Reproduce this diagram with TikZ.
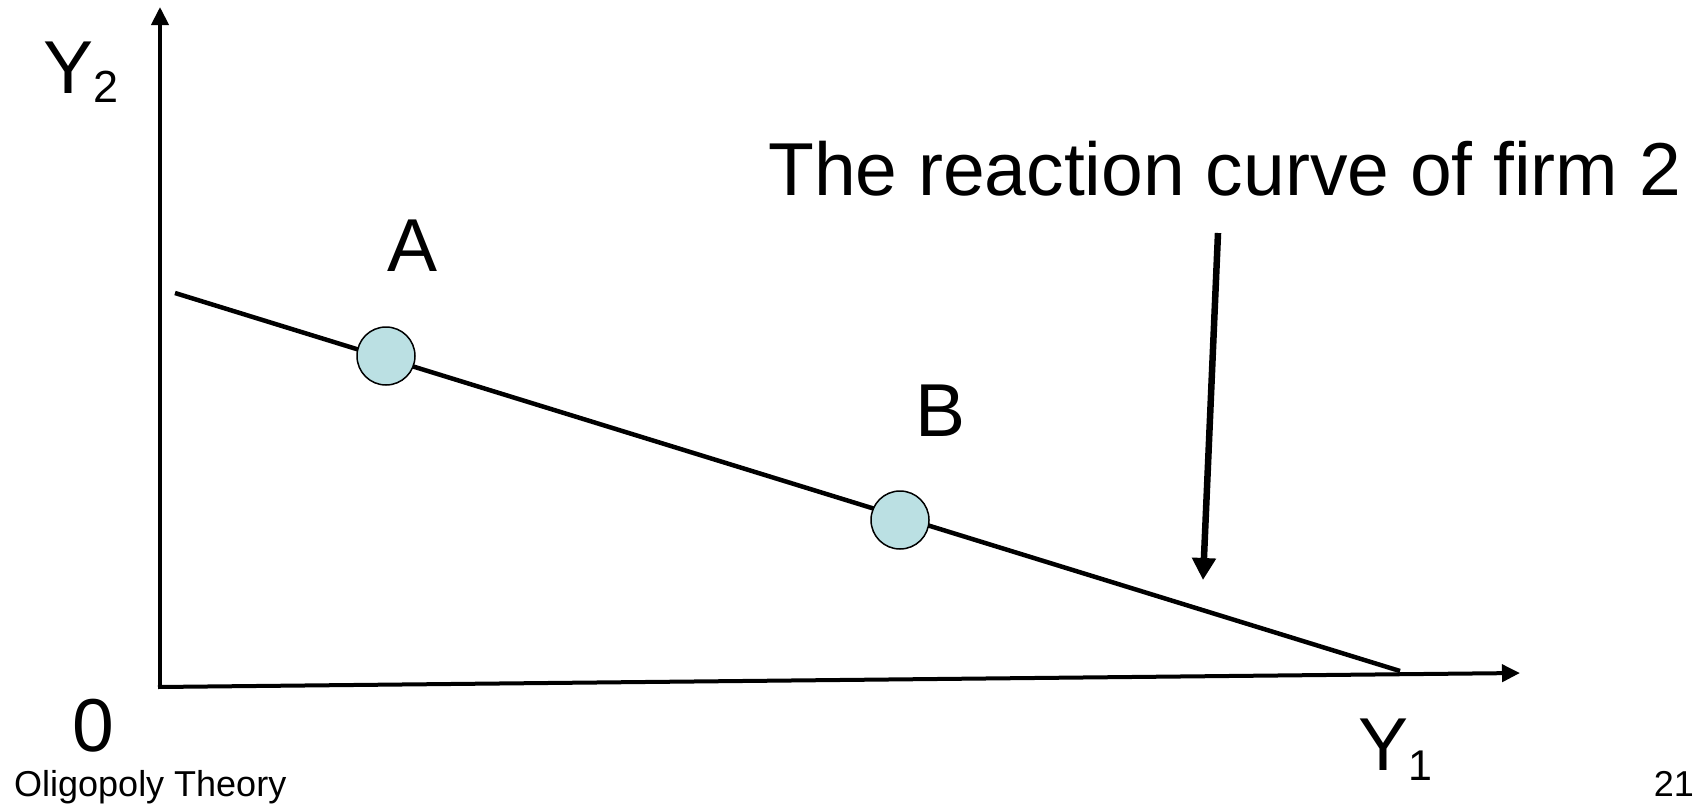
\documentclass[tikz,border=0pt]{standalone}
\usepackage{fontspec}
\setmainfont{Liberation Sans}
\usetikzlibrary{arrows.meta}
\definecolor{dotfill}{RGB}{187,224,227}
\tikzset{
  axisline/.style={line width=4pt, -{Triangle[width=17pt,length=18pt]}},
  curveline/.style={line width=4.5pt},
  pointer/.style={line width=6.5pt, -{Triangle[width=23pt,length=22pt]}},
  dot/.style={circle, draw=black, line width=1.5pt, fill=dotfill, minimum size=58pt, inner sep=0pt},
  bigtext/.style={inner sep=0pt, anchor=base west, font=\fontsize{75}{90}\selectfont},
  smalltext/.style={inner sep=0pt, font=\fontsize{36}{43}\selectfont}
}
\begin{document}
\begin{tikzpicture}[x=1pt,y=-1pt]
\useasboundingbox (0,0) rectangle (1696,803);
\coordinate (origin) at (160,687);
\coordinate (ytop) at (160,7);
\coordinate (xend) at (1520,673);
\coordinate (cstart) at (175,293);
\coordinate (cend) at (1400,671);
\coordinate (pstart) at (1218,233);
\coordinate (pend) at (1203,580);
% axes
\draw[axisline] (160,689) -- (ytop);
\draw[axisline] (158,687) -- (xend);
% reaction curve
\draw[curveline] (cstart) -- (cend);
\node[dot] (ptA) at (386,356) {};
\node[dot] (ptB) at (900,520) {};
% pointer arrow
\draw[pointer] (pstart) -- (pend);
% labels
\node[bigtext] (lblY2) at (43,93) {Y{\fontsize{45}{54}\selectfont\raisebox{-9pt}{2}}};
\node[bigtext] (lblY1) at (1358,770) {Y{\fontsize{43}{52}\selectfont\raisebox{-10pt}{1}}};
\node[bigtext] (lblA) at (387,271) {A};
\node[bigtext] (lblB) at (915,436) {B};
\node[bigtext] (lblO) at (72,751) {0};
\node[bigtext] (title) at (768,195) {The reaction curve of firm 2};
\node[smalltext, anchor=base west] (foot) at (14,796) {Oligopoly Theory};
\node[smalltext, anchor=base east] (page) at (1694,796) {21};
\end{tikzpicture}
\end{document}
